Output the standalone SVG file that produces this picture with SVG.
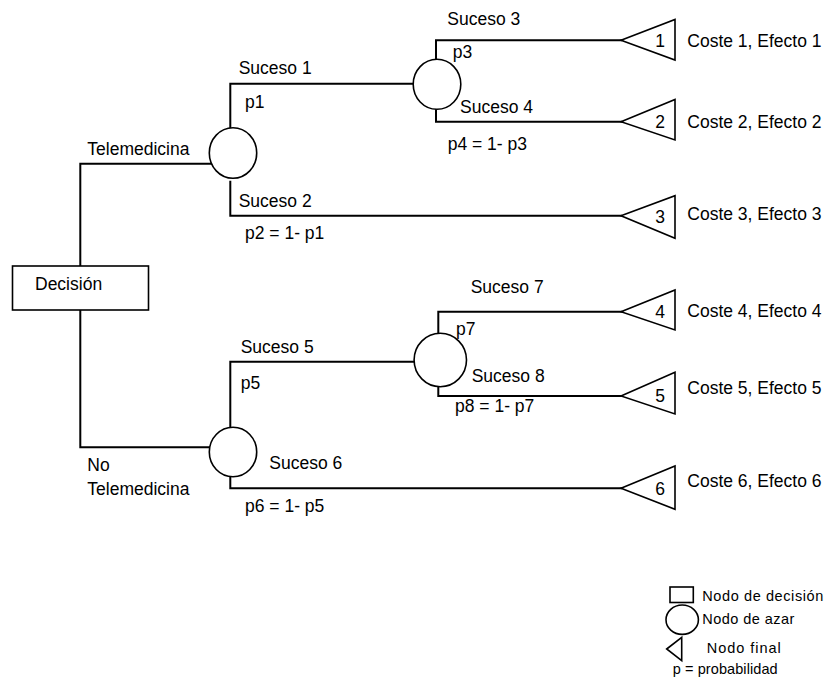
<svg xmlns="http://www.w3.org/2000/svg" width="834" height="682" viewBox="0 0 834 682">
<style>
  .bg{fill:#ffffff}
  .edge{fill:none;stroke:#000;stroke-width:2;stroke-linecap:square}
  .shape{fill:#fff;stroke:#000;stroke-width:1.6}
  .t{font-family:"Liberation Sans",Arial,sans-serif;font-size:17.5px;fill:#000}
  .n{font-family:"Liberation Sans",Arial,sans-serif;font-size:17.5px;fill:#000;text-anchor:middle}
  .lg{font-family:"Liberation Sans",Arial,sans-serif;font-size:14.5px;fill:#000}
</style>
<rect class="bg" x="0" y="0" width="834" height="682"/>
<g id="connectors">
  <polyline class="edge" points="80.3,266 80.3,163.7 211,163.7"/>
  <polyline class="edge" points="80.3,310 80.3,447.3 209.5,447.3"/>
  <polyline class="edge" points="230.3,128 230.3,83.7 413,83.7"/>
  <polyline class="edge" points="230.3,181.7 230.3,215.7 621,215.7"/>
  <polyline class="edge" points="436,59.5 436,40.3 621,40.3"/>
  <polyline class="edge" points="436,109 436,121.7 621,121.7"/>
  <polyline class="edge" points="230.3,427.5 230.3,361.7 414,361.7"/>
  <polyline class="edge" points="230.3,476.7 230.3,488.3 621,488.3"/>
  <polyline class="edge" points="438.3,333.5 438.3,311.7 621,311.7"/>
  <polyline class="edge" points="438.3,386.5 438.3,396 621,396"/>
</g>
<g id="decision">
  <rect class="shape" x="12.5" y="266" width="136" height="44"/>
  <text class="t" x="35" y="289.5">Decisión</text>
</g>
<g id="chance1"><ellipse class="shape" cx="233" cy="153" rx="23.7" ry="25.3"/></g>
<g id="chance2"><ellipse class="shape" cx="437" cy="84.3" rx="23.8" ry="25"/></g>
<g id="chance3"><ellipse class="shape" cx="233" cy="452" rx="23.7" ry="24.7"/></g>
<g id="chance4"><ellipse class="shape" cx="440.3" cy="360" rx="26.2" ry="26.7"/></g>
<g id="end1">
  <polygon class="shape" points="621,40.3 675,19.5 675,60"/>
  <text class="n" x="660" y="46.7">1</text>
  <text class="t" x="687.3" y="46.7">Coste 1, Efecto 1</text>
</g>
<g id="end2">
  <polygon class="shape" points="621,121.7 675,99.5 675,140"/>
  <text class="n" x="660" y="127.7">2</text>
  <text class="t" x="687.3" y="127.7">Coste 2, Efecto 2</text>
</g>
<g id="end3">
  <polygon class="shape" points="621,215.7 675,195.7 675,238.3"/>
  <text class="n" x="660" y="223">3</text>
  <text class="t" x="687.3" y="220">Coste 3, Efecto 3</text>
</g>
<g id="end4">
  <polygon class="shape" points="621,311.7 675,290 675,330"/>
  <text class="n" x="660" y="317.5">4</text>
  <text class="t" x="687.3" y="316.7">Coste 4, Efecto 4</text>
</g>
<g id="end5">
  <polygon class="shape" points="621,396 675,372.3 675,414"/>
  <text class="n" x="660" y="402">5</text>
  <text class="t" x="687.3" y="394">Coste 5, Efecto 5</text>
</g>
<g id="end6">
  <polygon class="shape" points="621,488.3 675,466 675,509.3"/>
  <text class="n" x="660" y="494.5">6</text>
  <text class="t" x="687.3" y="486.5">Coste 6, Efecto 6</text>
</g>
<g id="labels">
  <text class="t" x="87.3" y="155">Telemedicina</text>
  <text class="t" x="238.7" y="73.7">Suceso 1</text>
  <text class="t" x="245" y="108.3">p1</text>
  <text class="t" x="238.7" y="207.3">Suceso 2</text>
  <text class="t" x="245" y="239.3">p2 = 1- p1</text>
  <text class="t" x="447.3" y="25">Suceso 3</text>
  <text class="t" x="452.7" y="58.3">p3</text>
  <text class="t" x="460" y="112.7">Suceso 4</text>
  <text class="t" x="447.7" y="150">p4 = 1- p3</text>
  <text class="t" x="87.3" y="471">No</text>
  <text class="t" x="87.3" y="495">Telemedicina</text>
  <text class="t" x="240.7" y="353.3">Suceso  5</text>
  <text class="t" x="240.7" y="389.3">p5</text>
  <text class="t" x="269.3" y="469">Suceso 6</text>
  <text class="t" x="245" y="512">p6 = 1- p5</text>
  <text class="t" x="470.7" y="292.7">Suceso 7</text>
  <text class="t" x="456" y="335">p7</text>
  <text class="t" x="471.7" y="381.7">Suceso 8</text>
  <text class="t" x="455" y="412">p8 = 1- p7</text>
</g>
<g id="legend">
  <rect class="shape" x="670" y="587" width="23.3" height="15.5" stroke-width="1.3"/>
  <text class="lg" x="702.3" y="601" textLength="121" lengthAdjust="spacing">Nodo de decisión</text>
  <ellipse class="shape" cx="682.2" cy="619.7" rx="16.2" ry="14.7" stroke-width="1.3"/>
  <text class="lg" x="702.3" y="624" textLength="92" lengthAdjust="spacing">Nodo de azar</text>
  <polygon class="shape" points="666.7,649 681.7,637.3 681.7,660.7" stroke-width="1.3"/>
  <text class="lg" x="706.7" y="652.7" textLength="74" lengthAdjust="spacing">Nodo final</text>
  <text class="lg" x="672.7" y="674" textLength="105" lengthAdjust="spacing">p = probabilidad</text>
</g>
</svg>
